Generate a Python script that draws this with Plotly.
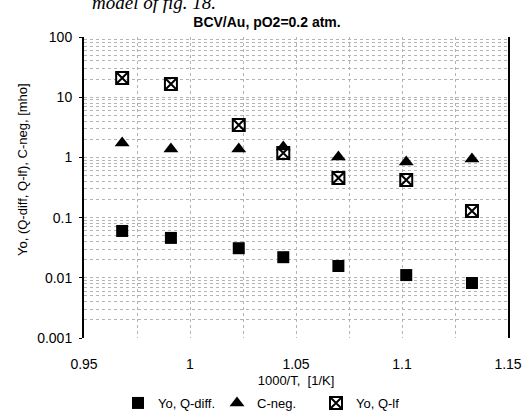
import plotly.graph_objects as go

# data
x_vals = [0.968, 0.991, 1.023, 1.044, 1.070, 1.102, 1.133]
yo_qdiff = [0.060, 0.046, 0.031, 0.022, 0.0157, 0.0111, 0.0082]
c_neg = [1.73, 1.38, 1.38, 1.49, 1.02, 0.84, 0.94]
yo_qlf = [20.8, 16.6, 3.45, 1.18, 0.455, 0.42, 0.129]

y_tickvals = [0.001, 0.01, 0.1, 1, 10, 100]
y_ticktext = ["0.001", "0.01", "0.1", "1", "10", "100"]
y_minor = [k * d for d in [0.001, 0.01, 0.1, 1, 10] for k in range(2, 10)]
x_tickvals = [0.95, 1.0, 1.05, 1.1, 1.15]
x_ticktext = ["0.95", "1", "1.05", "1.1", "1.15"]
x_minor = [0.975, 1.025, 1.075, 1.125]

font = "Liberation Sans, Arial, sans-serif"
gridc = "#b4b4b4"

fig = go.Figure()
fig.add_trace(go.Scatter(x=x_vals, y=yo_qdiff, mode="markers", name="Yo, Q-diff.",
                         marker=dict(symbol="square", size=12, color="black")))
fig.add_trace(go.Scatter(x=x_vals, y=c_neg, mode="markers", name="C-neg.",
                         marker=dict(symbol="triangle-up", size=13, color="black")))
fig.add_trace(go.Scatter(x=x_vals, y=yo_qlf, mode="markers", name="Yo, Q-lf",
                         marker=dict(symbol="square-x-open", size=12, color="black",
                                     line=dict(width=2, color="black"))))

fig.update_layout(
    width=523, height=414,
    margin=dict(l=84, r=15, t=37, b=76),
    paper_bgcolor="white", plot_bgcolor="white",
    font=dict(family=font, size=14, color="black"),
    title=dict(text="<b>BCV/Au, pO2=0.2 atm.</b>", x=267/523, xanchor="center",
               xref="container", y=1-22/414, yanchor="middle", yref="container",
               font=dict(size=14, family=font)),
    showlegend=True,
    legend=dict(orientation="h", x=118/523, xref="container", xanchor="left",
                y=1-403/414, yref="container", yanchor="middle",
                font=dict(size=13, family=font), itemwidth=30,
                entrywidth=54, tracegroupgap=0, bgcolor="rgba(0,0,0,0)"),
    xaxis=dict(range=[0.95, 1.15], tickmode="array", tickvals=x_tickvals, ticktext=x_ticktext,
               showline=False, zeroline=False, ticks="", automargin=False,
               showgrid=True, gridcolor=gridc, griddash="dot", gridwidth=1,
               minor=dict(tickmode="array", tickvals=x_minor, showgrid=True,
                          gridcolor=gridc, griddash="dot", gridwidth=1, ticks=""),
               ticklabelstandoff=16,
               title=dict(text="1000/T,  [1/K]", font=dict(size=13), standoff=4)),
    yaxis=dict(type="log", range=[-3, 2], tickmode="array", tickvals=y_tickvals, ticktext=y_ticktext,
               showline=True, linecolor="black", linewidth=2, mirror=True, automargin=False,
               ticks="outside", ticklen=3, tickcolor="black", zeroline=False,
               showgrid=True, gridcolor=gridc, griddash="dot", gridwidth=1,
               minor=dict(tickmode="array", tickvals=y_minor, showgrid=True,
                          gridcolor=gridc, griddash="dot", gridwidth=1, ticks=""),
               ticklabelstandoff=4),
)

fig.add_annotation(text="Yo, (Q-diff, Q-lf), C-neg, [mho]", textangle=-90,
                   xref="paper", yref="paper", x=-62/424, y=(338-170)/301,
                   xanchor="center", yanchor="middle", showarrow=False,
                   font=dict(size=13, family=font))

fig.add_annotation(text="<i>model of fig. 18.</i>", xref="paper", yref="paper",
                   x=6/424, y=1 + 22/301, xanchor="left", yanchor="bottom",
                   showarrow=False, font=dict(family="Liberation Serif, Times New Roman, serif", size=19))

fig.write_html("out.html")
